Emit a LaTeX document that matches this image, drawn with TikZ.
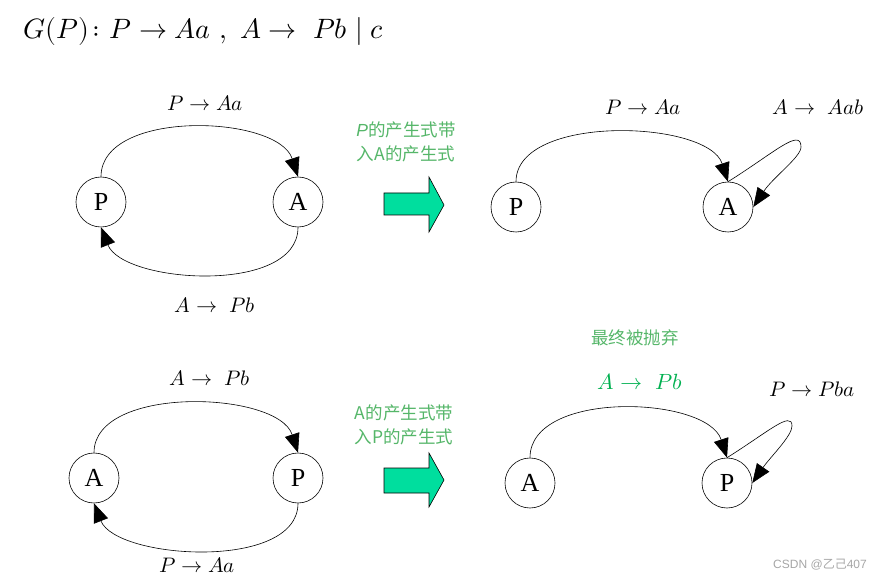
\documentclass[tikz,border=0pt]{standalone}
\usepackage{fontspec}
\usepackage{unicode-math}
\setmathfont{Latin Modern Math}
\usetikzlibrary{arrows.meta}
\newfontfamily\cjkfont{Noto Sans CJK SC}
\newfontfamily\nodefont{Liberation Serif}
\newfontfamily\wmfont{Liberation Sans}
\definecolor{txtgreen}{RGB}{85,182,105}
\definecolor{mathgreen}{RGB}{0,176,80}
\definecolor{blockgreen}{RGB}{0,222,158}
\tikzset{
  state/.style={circle, draw, line width=0.6pt, minimum size=50pt, inner sep=0pt, font=\nodefont\fontsize{26}{26}\selectfont},
  grarrow/.style={draw, line width=0.6pt, -{Triangle[length=19pt,width=15pt]}},
  rule/.style={font=\fontsize{21}{24}\selectfont},
  note/.style={text=txtgreen, font=\cjkfont\fontsize{17.5}{24}\selectfont, align=center},
  blockarrow/.style={draw=black, line width=0.6pt, fill=blockgreen, line join=miter},
}
\begin{document}
\begin{tikzpicture}[x=1pt,y=-1pt]
\useasboundingbox (0,0) rectangle (887,580);
% title
\node[anchor=west, font=\fontsize{28}{30}\selectfont] (title) at (20,32) {$G(P)\colon P\rightarrow Aa\ ,\ A\rightarrow\ Pb\mid c$};

% top-left
\node[state] (P1) at (101,202) {P};
\node[state] (A1) at (298,202) {A};
\draw[grarrow] (P1.north) .. controls +(0,-68) and +(-20,-62) .. (A1.north);
\draw[grarrow] (A1.south) .. controls +(0,68) and +(22,56) .. (P1.south);
\node[rule] (r1) at (205,103) {$P\rightarrow Aa$};
\node[rule] (r2) at (215,305) {$A\rightarrow\ Pb$};

% arrow 1
\node[note] (n1) at (406,142) {{\wmfont\itshape P}的产生式带\\入A的产生式};
\coordinate (b1) at (384,193);
\filldraw[blockarrow] (b1) -- ++(45,0) -- ++(0,-16) -- ++(15,28) -- ++(-15,27) -- ++(0,-17) -- ++(-45,0) -- cycle;

% top-right
\node[state] (P2) at (516,207) {P};
\node[state] (A2) at (728,207) {A};
\coordinate (L1) at (801,147);
\draw[grarrow] (P2.north) .. controls +(0,-68) and +(-20,-62) .. (A2.north);
\draw[grarrow] (A2.north) .. controls +(45,-28) and +(0,-20) .. (L1) .. controls +(0,10) and +(20,-30) .. (A2.east);
\node[rule] (r3) at (643,107) {$P\rightarrow Aa$};
\node[rule] (r4) at (818,107) {$A\rightarrow\ Aab$};

% bottom-left
\node[state] (A3) at (94,478) {A};
\node[state] (P3) at (298,478) {P};
\draw[grarrow] (A3.north) .. controls +(0,-68) and +(-20,-62) .. (P3.north);
\draw[grarrow] (P3.south) .. controls +(0,68) and +(22,56) .. (A3.south);
\node[rule] (r5) at (210,378) {$A\rightarrow\ Pb$};
\node[rule] (r6) at (197,565) {$P\rightarrow Aa$};

% arrow 2
\node[note] (n2) at (404,425) {A的产生式带\\入P的产生式};
\coordinate (b2) at (384,468);
\filldraw[blockarrow] (b2) -- ++(45,0) -- ++(0,-15) -- ++(15,27) -- ++(-15,27) -- ++(0,-14) -- ++(-45,0) -- cycle;

% bottom-right
\node[state] (A4) at (530,483) {A};
\node[state] (P4) at (727,483) {P};
\coordinate (L2) at (792,426);
\draw[grarrow] (A4.north) .. controls +(0,-68) and +(-20,-62) .. (P4.north);
\draw[grarrow] (P4.north) .. controls +(40,-25) and +(0,-16) .. (L2) .. controls +(0,10) and +(18,-26) .. (P4.east);
\node[note] (n3) at (635,338) {最终被抛弃};
\node[rule, text=mathgreen, font=\fontsize{22}{24}\selectfont] (r7) at (640,382) {$A\rightarrow\ Pb$};
\node[rule] (r8) at (812,389) {$P\rightarrow Pba$};

% watermark
\node[text=black!35, font=\fontsize{12}{14}\selectfont] (wm) at (820,565) {\wmfont CSDN @\cjkfont 乙己\wmfont 407};
\end{tikzpicture}
\end{document}
